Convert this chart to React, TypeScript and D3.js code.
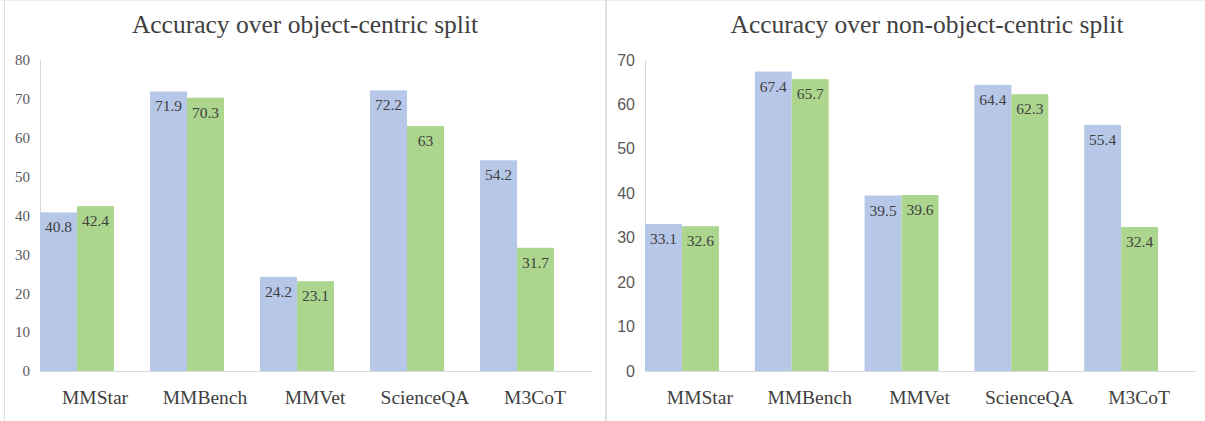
import React from "react";
import * as d3 from "d3";

const categories = ["MMStar", "MMBench", "MMVet", "ScienceQA", "M3CoT"];
const leftSeriesA = [40.8, 71.9, 24.2, 72.2, 54.2];
const leftSeriesB = [42.4, 70.3, 23.1, 63, 31.7];
const rightSeriesA = [33.1, 67.4, 39.5, 64.4, 55.4];
const rightSeriesB = [32.6, 65.7, 39.6, 62.3, 32.4];
const leftTicks = [0, 10, 20, 30, 40, 50, 60, 70, 80];
const rightTicks = [0, 10, 20, 30, 40, 50, 60, 70];
const leftTitle = "Accuracy over object-centric split";
const rightTitle = "Accuracy over non-object-centric split";

const BLUE = "#B7C7E8";
const GREEN = "#ACD68D";
const AXIS = "#D9D9D9";
const SERIF = "'Liberation Serif', 'Times New Roman', serif";
const SANS = "'Liberation Sans', Arial, sans-serif";

type PanelProps = {
  title: string;
  titleX: number;
  a: number[];
  b: number[];
  ticks: number[];
  maxV: number;
  x0: number;
  x1: number;
  tickFont: string;
  tickSize: number;
};

function Panel({ title, titleX, a, b, ticks, maxV, x0, x1, tickFont, tickSize }: PanelProps) {
  const y = d3.scaleLinear().domain([0, maxV]).range([371, 60]);
  const x = d3.scaleBand<string>().domain(categories).range([x0, x1]).padding(0);
  const groupW = x.step() * 0.673;
  const sub = d3.scaleBand<string>().domain(["a", "b"]).range([0, groupW]).padding(0);
  const series = [
    { key: "a", vals: a, color: BLUE },
    { key: "b", vals: b, color: GREEN },
  ];
  return (
    <g>
      <text x={titleX} y={33} textAnchor="middle" fontFamily={SERIF} fontSize={25.5} fill="#404040">
        {title}
      </text>
      {ticks.map((t) => (
        <text key={t} x={x0 - 10} y={y(t)} dy="0.35em" textAnchor="end" fontFamily={tickFont} fontSize={tickSize} fill="#595959">
          {t}
        </text>
      ))}
      <line x1={x0 + 0.5} x2={x0 + 0.5} y1={y(maxV)} y2={y(0)} stroke={AXIS} strokeWidth={1} />
      {series.map((s) =>
        categories.map((c, i) => {
          const bx = (x(c) as number) + (sub(s.key) as number);
          const bw = sub.bandwidth();
          const v = s.vals[i];
          return (
            <g key={s.key + c}>
              <rect x={bx} y={y(v)} width={bw} height={y(0) - y(v)} fill={s.color} />
              <text x={bx + bw / 2} y={y(v) + 20} textAnchor="middle" fontFamily={SERIF} fontSize={15.5} fill="#404040">
                {v}
              </text>
            </g>
          );
        })
      )}
      <line x1={x0} x2={x1 + 2} y1={y(0) + 0.5} y2={y(0) + 0.5} stroke={AXIS} strokeWidth={1} />
      {categories.map((c) => (
        <text key={c} x={(x(c) as number) + x.step() / 2} y={404} textAnchor="middle" fontFamily={SERIF} fontSize={19.5} fill="#404040">
          {c}
        </text>
      ))}
    </g>
  );
}

export default function App() {
  return (
    <svg width={1205} height={421} style={{ position: "absolute", left: 0, top: 0, background: "#fff" }}>
      <rect x={0} y={0} width={1205} height={421} fill="#fff" />
      <line x1={0} x2={1205} y1={0.5} y2={0.5} stroke="#EEEEEE" />
      <line x1={4.5} x2={4.5} y1={0} y2={421} stroke="#E0E0E0" />
      <line x1={606} x2={606} y1={0} y2={421} stroke="#E0E0E0" strokeWidth={2} />
      <Panel title={leftTitle} titleX={305} a={leftSeriesA} b={leftSeriesB} ticks={leftTicks} maxV={80} x0={40} x1={590} tickFont={SERIF} tickSize={15} />
      <Panel title={rightTitle} titleX={927} a={rightSeriesA} b={rightSeriesB} ticks={rightTicks} maxV={70} x0={645} x1={1194} tickFont={SANS} tickSize={16} />
    </svg>
  );
}
